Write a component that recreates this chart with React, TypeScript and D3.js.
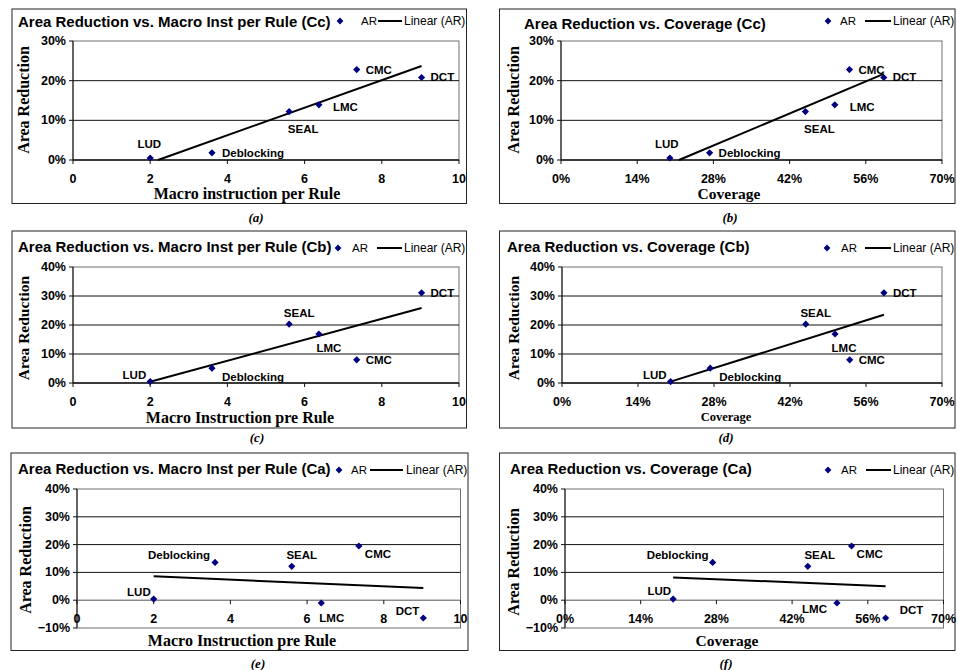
import React from "react";
import * as d3 from "d3";

// ---------- data ----------
const benchmarks = ["LUD", "Deblocking", "SEAL", "LMC", "CMC", "DCT"];
const macroInstPerRule = [2, 3.6, 5.6, 6.37, 7.35, 9.03];
const coverage = [0.2, 0.273, 0.449, 0.503, 0.53, 0.593];
const arCc = [0.005, 0.018, 0.122, 0.139, 0.228, 0.208];
const arCb = [0.005, 0.051, 0.203, 0.169, 0.08, 0.311];
const arCa = [0.004, 0.136, 0.122, -0.01, 0.195, -0.064];

const macroTicks = [0, 2, 4, 6, 8, 10];
const coverageTicks = [0, 0.14, 0.28, 0.42, 0.56, 0.7];
const yTicks30 = [0, 0.1, 0.2, 0.3];
const yTicks40 = [0, 0.1, 0.2, 0.3, 0.4];
const yTicksNeg = [-0.1, 0, 0.1, 0.2, 0.3, 0.4];

const titles = [
  "Area Reduction vs. Macro Inst per Rule (Cc)",
  "Area Reduction vs. Coverage (Cc)",
  "Area Reduction vs. Macro Inst per Rule (Cb)",
  "Area Reduction vs. Coverage (Cb)",
  "Area Reduction vs. Macro Inst per Rule (Ca)",
  "Area Reduction vs. Coverage (Ca)",
];
const xTitles = [
  "Macro instruction per Rule",
  "Coverage",
  "Macro Instruction pre Rule",
  "Coverage",
  "Macro Instruction pre Rule",
  "Coverage",
];
const captions = ["(a)", "(b)", "(c)", "(d)", "(e)", "(f)"];

// ---------- layout (positions / styles) ----------
type Anchor = "start" | "middle" | "end";
type LabelPos = [number, number, Anchor];

const SANS = "'Liberation Sans', Arial, sans-serif";
const SERIF = "'Liberation Serif', 'Times New Roman', serif";

const panels = [
  {
    x: macroInstPerRule, y: arCc, xDomain: [0, 10], xTicks: macroTicks, yDomain: [0, 0.3], yTicks: yTicks30, pct: false,
    outer: [12, 9, 466.5, 203.5], plot: [73, 41, 459, 160],
    title: [18, 21], legend: [340, 361, 378, 402, 404, 21],
    yTitle: [23, 100, 16], xTitle: [247, 193, 16], caption: [256, 217],
    labels: [[-1, -14, "middle"], [10, 0, "start"], [14, 17, "middle"], [14, 2, "start"], [9, 0, "start"], [9, 0, "start"]] as LabelPos[],
  },
  {
    x: coverage, y: arCc, xDomain: [0, 0.7], xTicks: coverageTicks, yDomain: [0, 0.3], yTicks: yTicks30, pct: true,
    outer: [499.5, 9, 955, 203.5], plot: [561, 41, 942, 160],
    title: [524, 23], legend: [828, 840, 865, 891, 893, 21],
    yTitle: [513, 100, 16], xTitle: [729, 193, 15.5], caption: [730, 217],
    labels: [[-3, -14, "middle"], [9, 0, "start"], [14, 17, "middle"], [15, 2, "start"], [9, 0, "start"], [9, 0, "start"]] as LabelPos[],
  },
  {
    x: macroInstPerRule, y: arCb, xDomain: [0, 10], xTicks: macroTicks, yDomain: [0, 0.4], yTicks: yTicks40, pct: false,
    outer: [12, 231, 466.5, 428], plot: [73, 267, 459, 383],
    title: [18, 246.7], legend: [338, 352, 377, 402, 404, 248],
    yTitle: [23, 328, 15.5], xTitle: [240, 417, 16], caption: [257, 437],
    labels: [[-4, -7, "end"], [10, 9, "start"], [10, -11, "middle"], [10, 14, "middle"], [9, 0, "start"], [9, 0, "start"]] as LabelPos[],
  },
  {
    x: coverage, y: arCb, xDomain: [0, 0.7], xTicks: coverageTicks, yDomain: [0, 0.4], yTicks: yTicks40, pct: true,
    outer: [499.5, 231, 955, 428], plot: [562, 267, 942, 383],
    title: [507, 246.7], legend: [827, 841, 865, 891, 893, 248],
    yTitle: [513, 328, 15.5], xTitle: [726, 417, 12.5], caption: [726, 437],
    labels: [[-4, -7, "end"], [9, 9, "start"], [10, -11, "middle"], [9, 14, "middle"], [9, 0, "start"], [9, 0, "start"]] as LabelPos[],
  },
  {
    x: macroInstPerRule, y: arCa, xDomain: [0, 10], xTicks: macroTicks, yDomain: [-0.1, 0.4], yTicks: yTicksNeg, pct: false,
    outer: [11, 453, 468, 650.5], plot: [77, 489, 460.5, 628],
    title: [18, 468], legend: [339, 351, 370, 403, 406, 470],
    yTitle: [25, 560, 16], xTitle: [242, 640, 16], caption: [258, 663],
    labels: [[-3, -7, "end"], [-5, -7, "end"], [10, -11, "middle"], [-2, 15, "start"], [6, 8, "start"], [-4, -7, "end"]] as LabelPos[],
  },
  {
    x: coverage, y: arCa, xDomain: [0, 0.7], xTicks: coverageTicks, yDomain: [-0.1, 0.4], yTicks: yTicksNeg, pct: true,
    outer: [499.5, 453, 955, 650.5], plot: [565, 489, 943.5, 628],
    title: [510, 468], legend: [828, 841, 866, 891, 893, 470],
    yTitle: [513, 562, 16], xTitle: [727, 640, 15.5], caption: [726, 663],
    labels: [[-2, -8, "end"], [-4, -7, "end"], [12, -11, "middle"], [-10, 6, "end"], [5, 8, "start"], [14, -8, "start"]] as LabelPos[],
  },
];

const NAVY = "#000080";
const pctFmt = d3.format(".0%");

function diamond(cx: number, cy: number, r = 3.6) {
  return `M${cx},${cy - r}L${cx + r},${cy}L${cx},${cy + r}L${cx - r},${cy}Z`;
}

function Panel({ p, i }: { p: (typeof panels)[number]; i: number }) {
  const [px0, py0, px1, py1] = p.plot;
  const xs = d3.scaleLinear().domain(p.xDomain).range([px0, px1]);
  const ys = d3.scaleLinear().domain(p.yDomain).range([py1, py0]);

  // least-squares linear trend
  const mx = d3.mean(p.x) as number;
  const my = d3.mean(p.y) as number;
  const sxy = d3.sum(p.x, (v, k) => (v - mx) * (p.y[k] - my));
  const sxx = d3.sum(p.x, (v) => (v - mx) * (v - mx));
  const slope = sxy / sxx;
  const f = (v: number) => my + slope * (v - mx);
  let tx0 = d3.min(p.x) as number;
  const tx1 = d3.max(p.x) as number;
  if (f(tx0) < p.yDomain[0]) tx0 = mx + (p.yDomain[0] - my) / slope;
  const trend = d3.line<number>().x((v) => xs(v)).y((v) => ys(f(v)))([tx0, tx1]) as string;

  const y0 = ys(0);
  const [o0, o1, o2, o3] = p.outer;
  const [lgD, lgAR, lgL1, lgL2, lgLin, lgY] = p.legend;

  return (
    <g>
      <rect x={o0} y={o1} width={o2 - o0} height={o3 - o1} fill="#fff" stroke="#222" strokeWidth={1} />
      {/* plot frame */}
      <rect x={px0} y={py0} width={px1 - px0} height={py1 - py0} fill="#fff" stroke="#707070" strokeWidth={1} />
      {/* grid lines */}
      {p.yTicks
        .filter((t) => t !== p.yDomain[0] && t !== p.yDomain[1] && t !== 0)
        .map((t) => (
          <line key={"g" + t} x1={px0} x2={px1} y1={ys(t)} y2={ys(t)} stroke="#111" strokeWidth={1} />
        ))}
      {/* axes */}
      <line x1={px0} x2={px0} y1={py0} y2={py1} stroke="#111" strokeWidth={1} />
      <line x1={px0} x2={px1} y1={y0} y2={y0} stroke={p.yDomain[0] < 0 ? "#555" : "#111"} strokeWidth={p.yDomain[0] < 0 ? 1 : 1.6} />
      {p.yTicks.map((t) => (
        <g key={"yt" + t}>
          <line x1={px0 - 4} x2={px0} y1={ys(t)} y2={ys(t)} stroke="#111" />
          <text x={px0 - 7} y={ys(t)} textAnchor="end" dominantBaseline="central" fontFamily={SANS} fontWeight="bold" fontSize={12.5}>
            {pctFmt(t)}
          </text>
        </g>
      ))}
      {p.xTicks.map((t) => (
        <g key={"xt" + t}>
          <line x1={xs(t)} x2={xs(t)} y1={y0} y2={y0 + 4} stroke="#111" />
          <text x={xs(t)} y={y0 + 19} textAnchor="middle" dominantBaseline="central" fontFamily={SANS} fontWeight="bold" fontSize={12.5}>
            {p.pct ? pctFmt(t) : t}
          </text>
        </g>
      ))}
      {/* trend line */}
      <path d={trend} fill="none" stroke="#000" strokeWidth={2} />
      {/* points and labels */}
      {p.x.map((v, k) => {
        const cx = xs(v);
        const cy = ys(p.y[k]);
        const [dx, dy, anchor] = p.labels[k];
        return (
          <g key={"pt" + k}>
            <path d={diamond(cx, cy)} fill={NAVY} />
            <text x={cx + dx} y={cy + dy} textAnchor={anchor} dominantBaseline="central" fontFamily={SANS} fontWeight="bold" fontSize={11.5}>
              {benchmarks[k]}
            </text>
          </g>
        );
      })}
      {/* title */}
      <text x={p.title[0]} y={p.title[1]} dominantBaseline="central" fontFamily={SANS} fontWeight="bold" fontSize={15}>
        {titles[i]}
      </text>
      {/* legend */}
      <path d={diamond(lgD, lgY, 3.4)} fill={NAVY} />
      <text x={lgAR} y={lgY} dominantBaseline="central" fontFamily={SANS} fontSize={11.5}>AR</text>
      <line x1={lgL1} x2={lgL2} y1={lgY} y2={lgY} stroke="#000" strokeWidth={2} />
      <text x={lgLin} y={lgY} dominantBaseline="central" fontFamily={SANS} fontSize={12}>Linear (AR)</text>
      {/* axis titles */}
      <text
        transform={`translate(${p.yTitle[0]},${p.yTitle[1]}) rotate(-90)`}
        textAnchor="middle"
        dominantBaseline="central"
        fontFamily={SERIF}
        fontWeight="bold"
        fontSize={p.yTitle[2]}
      >
        Area Reduction
      </text>
      <text x={p.xTitle[0]} y={p.xTitle[1]} textAnchor="middle" dominantBaseline="central" fontFamily={SERIF} fontWeight="bold" fontSize={p.xTitle[2]}>
        {xTitles[i]}
      </text>
      {/* caption */}
      <text x={p.caption[0]} y={p.caption[1]} textAnchor="middle" dominantBaseline="central" fontFamily={SERIF} fontWeight="bold" fontStyle="italic" fontSize={13}>
        {captions[i]}
      </text>
    </g>
  );
}

export default function App() {
  return (
    <svg width={957} height={670} style={{ position: "absolute", left: 0, top: 0, background: "#fff" }}>
      <rect x={0} y={0} width={957} height={670} fill="#fff" />
      {panels.map((p, i) => (
        <Panel key={i} p={p} i={i} />
      ))}
    </svg>
  );
}
